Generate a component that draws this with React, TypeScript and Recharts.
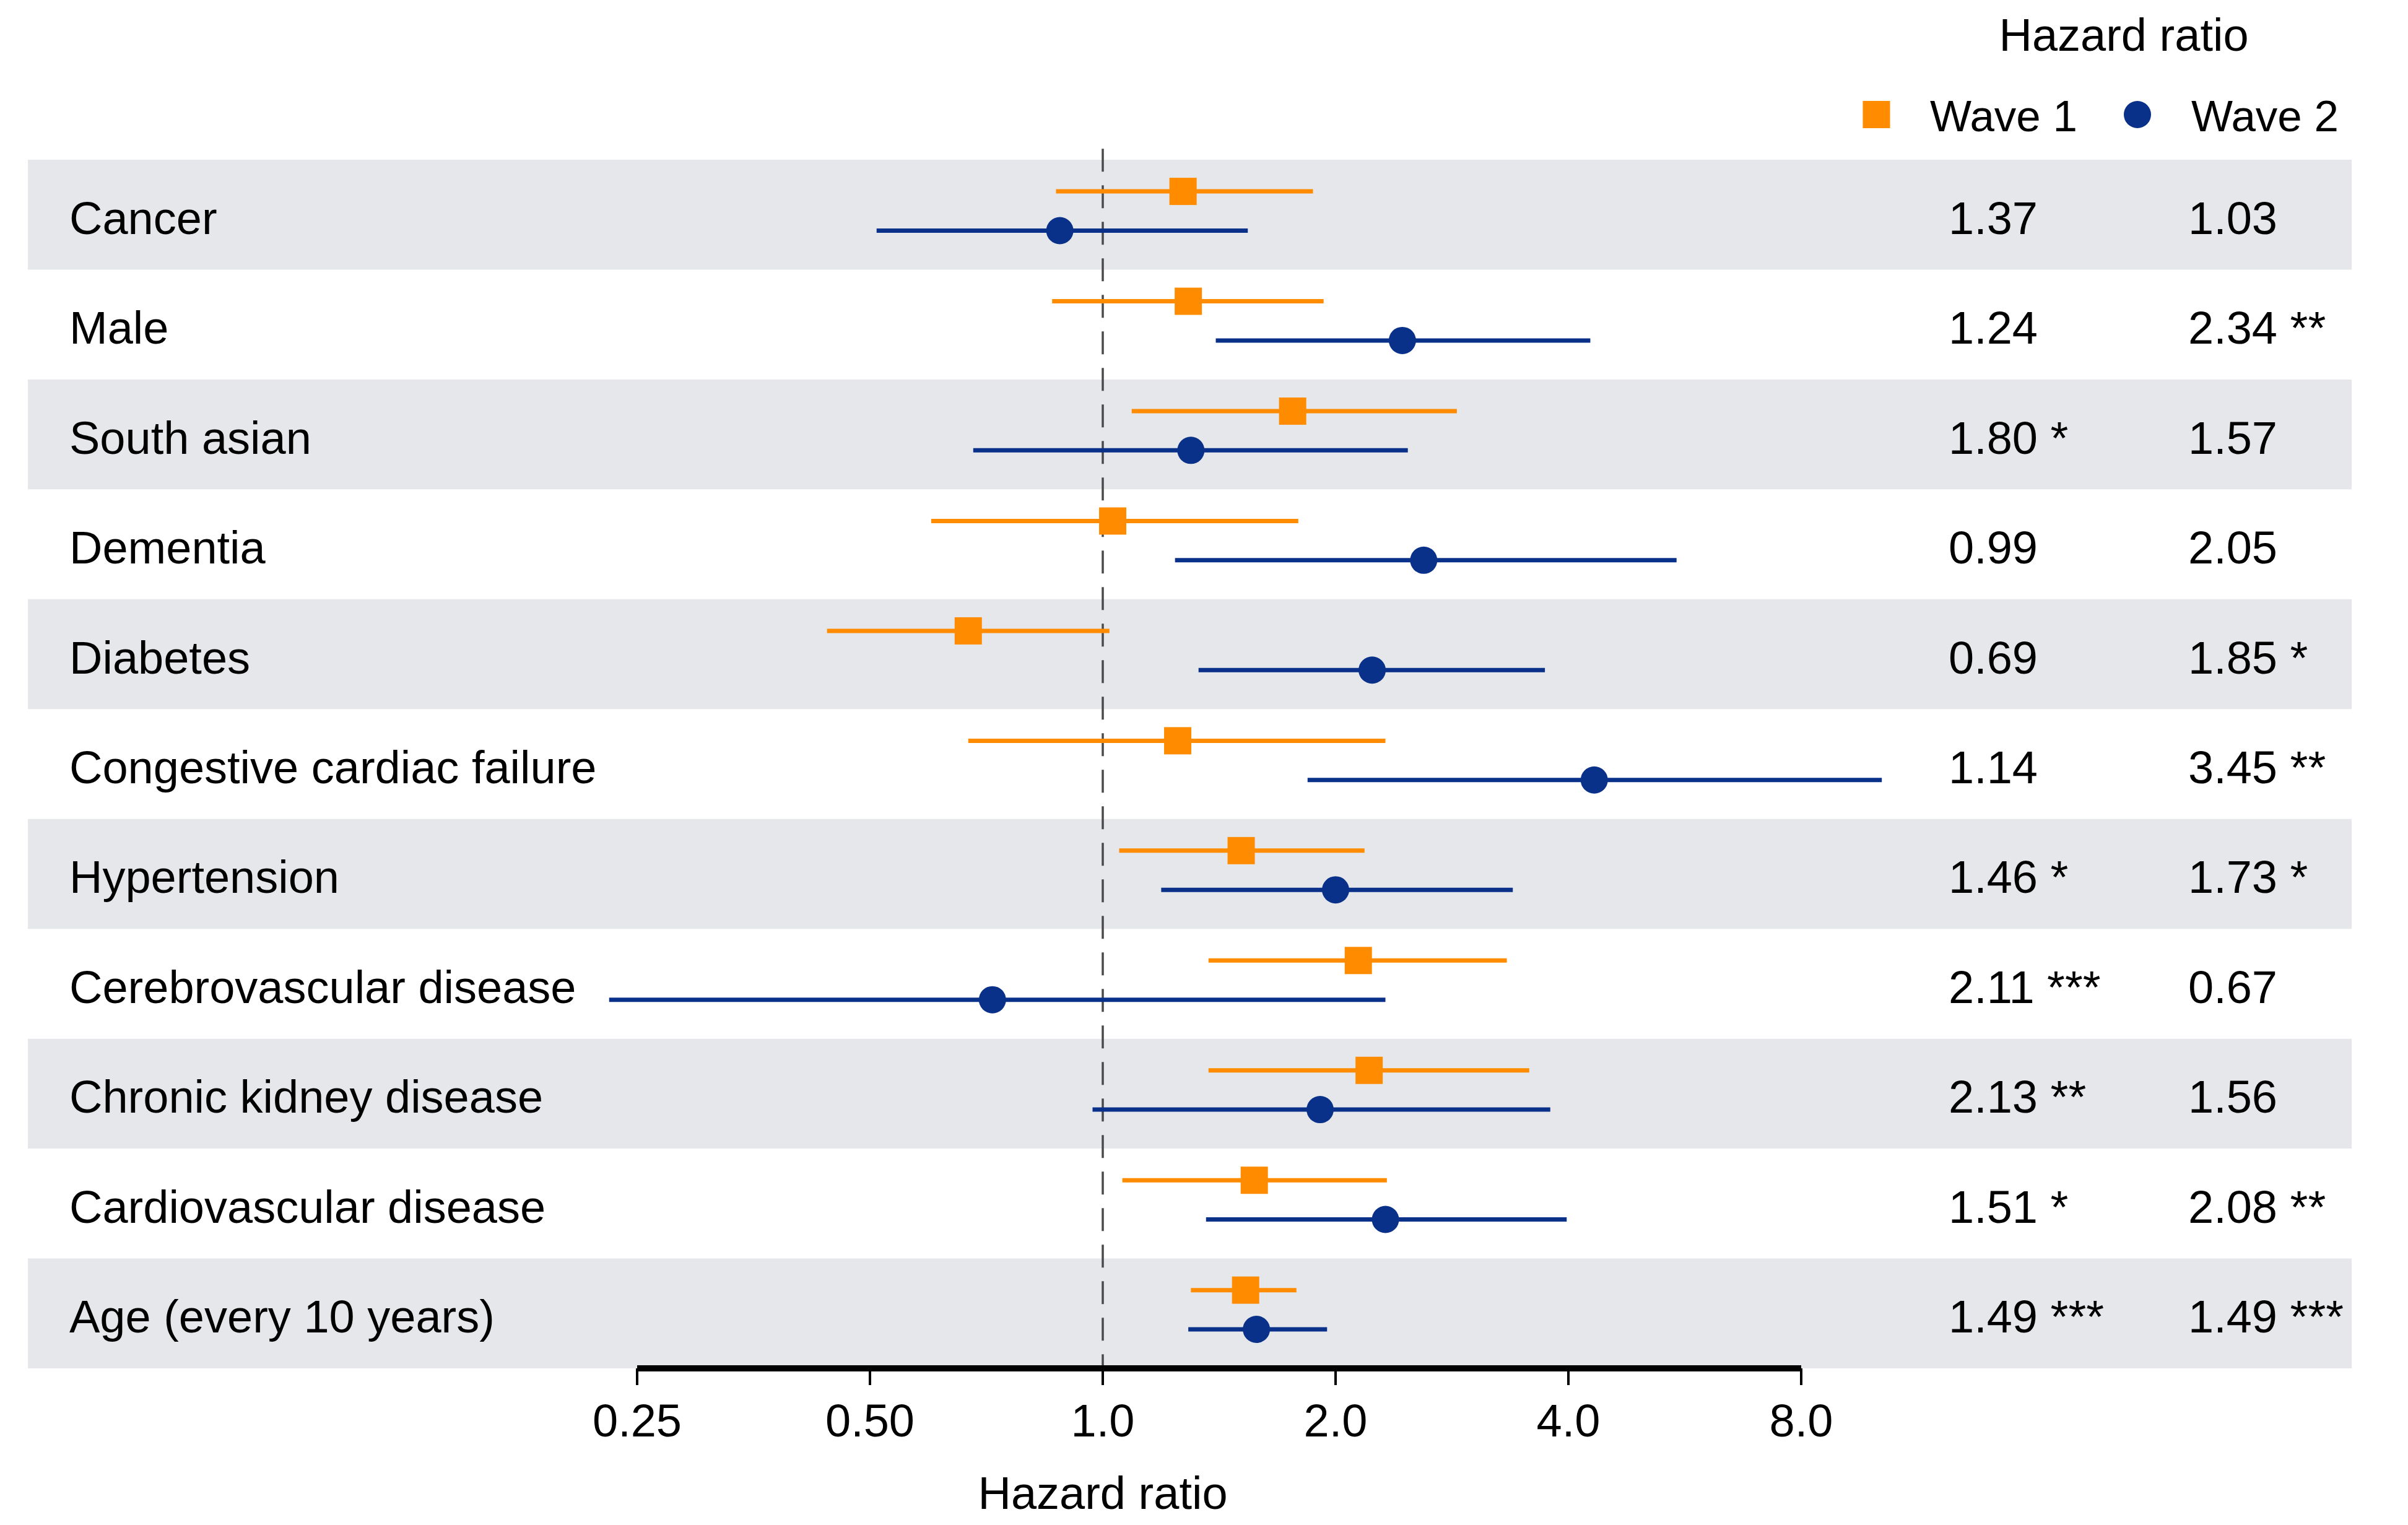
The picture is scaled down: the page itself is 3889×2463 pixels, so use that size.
import React from 'react';
import {
  ScatterChart,
  Scatter,
  XAxis,
  YAxis,
  ErrorBar,
  ReferenceArea,
  ReferenceLine,
  Legend,
} from 'recharts';

const CATEGORIES = [
  'Cancer',
  'Male',
  'South asian',
  'Dementia',
  'Diabetes',
  'Congestive cardiac failure',
  'Hypertension',
  'Cerebrovascular disease',
  'Chronic kidney disease',
  'Cardiovascular disease',
  'Age (every 10 years)',
];

// wave 1 (orange squares): point and 95% CI as drawn
const W1_HR = [1.27, 1.29, 1.76, 1.03, 0.67, 1.25, 1.51, 2.14, 2.21, 1.57, 1.53];
const W1_LO = [0.87, 0.86, 1.09, 0.6, 0.44, 0.67, 1.05, 1.37, 1.37, 1.06, 1.3];
const W1_HI = [1.87, 1.93, 2.87, 1.79, 1.02, 2.32, 2.18, 3.33, 3.56, 2.33, 1.78];

// wave 2 (blue circles)
const W2_HR = [0.88, 2.44, 1.3, 2.6, 2.23, 4.32, 2.0, 0.72, 1.91, 2.32, 1.58];
const W2_LO = [0.51, 1.4, 0.68, 1.24, 1.33, 1.84, 1.19, 0.23, 0.97, 1.36, 1.29];
const W2_HI = [1.54, 4.27, 2.48, 5.52, 3.73, 10.17, 3.39, 2.32, 3.79, 3.98, 1.95];

// printed hazard ratios in the right-hand columns
const W1_TEXT = ['1.37', '1.24', '1.80 *', '0.99', '0.69', '1.14', '1.46 *', '2.11 ***', '2.13 **', '1.51 *', '1.49 ***'];
const W2_TEXT = ['1.03', '2.34 **', '1.57', '2.05', '1.85 *', '3.45 **', '1.73 *', '0.67', '1.56', '2.08 **', '1.49 ***'];

const TICKS = [0.25, 0.5, 1, 2, 4, 8];
const TICK_LABELS = ['0.25', '0.50', '1.0', '2.0', '4.0', '8.0'];

const ORANGE = '#FF8C00';
const BLUE = '#0A318A';
const BAND = '#E5E7EA';
const FONT = '"Liberation Sans", Arial, Helvetica, sans-serif';
const FS = 74;

// plot spans x 37..3790 (chart px); 1.0 sits at 1773 and one doubling is 376px
const X_DOMAIN = [2 ** ((37 - 1773) / 376), 2 ** ((3790 - 1773) / 376)];

// where the two markers sit inside each row (fraction of row height)
const W1_OFFSET = 0.288;
const W2_OFFSET = 0.645;

const wave1 = CATEGORIES.map((name, i) => ({
  name,
  pos: i + W1_OFFSET,
  hr: W1_HR[i],
  err: [W1_HR[i] - W1_LO[i], W1_HI[i] - W1_HR[i]],
}));

const wave2 = CATEGORIES.map((name, i) => ({
  name,
  pos: i + W2_OFFSET,
  hr: W2_HR[i],
  err: [W2_HR[i] - W2_LO[i], W2_HI[i] - W2_HR[i]],
}));

const rowTicks = CATEGORIES.map((_, i) => i + 0.5);

const RowTick = (props: any) => {
  const { y, payload } = props;
  const i = Math.floor(payload.value);
  const common = { fontSize: FS, fontFamily: FONT, fill: '#000' };
  return (
    <g>
      <text x={104} y={y + 31} {...common}>{CATEGORIES[i]}</text>
      <text x={3139} y={y + 31} {...common}>{W1_TEXT[i]}</text>
      <text x={3526} y={y + 31} {...common}>{W2_TEXT[i]}</text>
    </g>
  );
};

const SquareDot = (props: any) => {
  const { cx, cy } = props;
  return <rect x={cx - 22} y={cy - 22} width={44} height={44} fill={ORANGE} />;
};

const RoundDot = (props: any) => {
  const { cx, cy } = props;
  return <circle cx={cx} cy={cy} r={22} fill={BLUE} />;
};

const LegendBox = (props: any) => {
  const items = props.payload || [];
  const txt = { fontSize: FS, fontFamily: FONT, fill: '#000' };
  return (
    <svg width={3873} height={240} style={{ display: 'block' }}>
      <text x={3422} y={74} textAnchor="middle" {...txt}>Hazard ratio</text>
      <rect x={3000.5} y={155} width={44} height={44} fill={ORANGE} />
      <text x={3109} y={204} {...txt} fontSize={71}>{items[0]?.value ?? 'Wave 1'}</text>
      <circle cx={3444} cy={177} r={22} fill={BLUE} />
      <text x={3531} y={204} {...txt} fontSize={71}>{items[1]?.value ?? 'Wave 2'}</text>
    </svg>
  );
};

const XTitle = (props: any) => {
  const vb = props.viewBox || { x: 0, y: 0, width: 0, height: 0 };
  return (
    <text
      x={vb.x + (vb.width || 0) / 2}
      y={vb.y + vb.height + 227}
      textAnchor="middle"
      fontSize={FS}
      fontFamily={FONT}
      fill="#000"
    >
      Hazard ratio
    </text>
  );
};

export default function App() {
  return (
    <div style={{ width: 3873, height: 2447, fontFamily: FONT }}>
      <ScatterChart width={3873} height={2447} margin={{ top: 250, right: 83, bottom: 145, left: 36 }}>
        {CATEGORIES.map((c, i) =>
          i % 2 === 0 ? (
            <ReferenceArea key={c} y1={i} y2={i + 1} fill={BAND} fillOpacity={1} stroke="none" ifOverflow="visible" />
          ) : null
        )}
        <XAxis
          type="number"
          dataKey="hr"
          scale="log"
          domain={X_DOMAIN}
          allowDataOverflow
          ticks={TICKS}
          interval={0}
          tickFormatter={(v: number, i: number) => TICK_LABELS[i] ?? String(v)}
          axisLine={false}
          tickLine={{ stroke: '#000', strokeWidth: 4 }}
          tickSize={27}
          tickMargin={30}
          tick={{ fontSize: FS, fontFamily: FONT, fill: '#000' }}
          height={100}
        />
        <YAxis
          type="number"
          dataKey="pos"
          domain={[0, 11]}
          reversed
          allowDataOverflow
          ticks={rowTicks}
          interval={0}
          axisLine={false}
          tickLine={false}
          tick={RowTick}
          width={1}
        />
        <ReferenceLine
          segment={[{ x: 1, y: -0.1 }, { x: 1, y: 11 }]}
          stroke="#4a4a4a"
          strokeWidth={3.5}
          strokeDasharray="37 22"
          ifOverflow="visible"
          label={XTitle}
        />
        <ReferenceLine
          segment={[{ x: 0.25, y: 11 }, { x: 8, y: 11 }]}
          stroke="#000"
          strokeWidth={10}
          ifOverflow="visible"
        />
        <Scatter name="Wave 1" data={wave1} fill={ORANGE} shape={SquareDot} legendType="square" isAnimationActive={false}>
          <ErrorBar dataKey="err" direction="x" width={0} stroke={ORANGE} strokeWidth={7} isAnimationActive={false} />
        </Scatter>
        <Scatter name="Wave 2" data={wave2} fill={BLUE} shape={RoundDot} legendType="circle" isAnimationActive={false}>
          <ErrorBar dataKey="err" direction="x" width={0} stroke={BLUE} strokeWidth={7} isAnimationActive={false} />
        </Scatter>
        <Legend
          layout="vertical"
          align="center"
          verticalAlign="middle"
          content={LegendBox}
          wrapperStyle={{ position: 'absolute', left: 0, top: 0, width: 3873, height: 240, pointerEvents: 'none' }}
        />
      </ScatterChart>
    </div>
  );
}
